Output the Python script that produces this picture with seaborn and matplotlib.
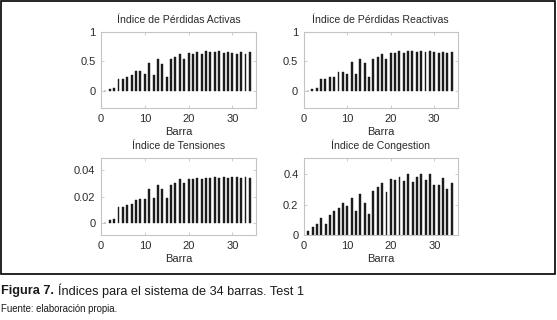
import numpy as np
import pandas as pd
import seaborn as sns
import matplotlib.pyplot as plt
from matplotlib.patches import Rectangle

barra = list(range(1, 35))

perdidas_activas = [0.0, 0.02, 0.04, 0.20, 0.20, 0.24, 0.26, 0.33, 0.33, 0.29,
                    0.48, 0.27, 0.55, 0.46, 0.24, 0.55, 0.57, 0.63, 0.54, 0.65,
                    0.63, 0.67, 0.63, 0.68, 0.67, 0.66, 0.68, 0.65, 0.67, 0.65,
                    0.62, 0.67, 0.63, 0.66]

perdidas_reactivas = [0.0, 0.02, 0.035, 0.20, 0.20, 0.24, 0.24, 0.32, 0.32, 0.29,
                      0.49, 0.28, 0.54, 0.47, 0.24, 0.55, 0.57, 0.63, 0.54, 0.65,
                      0.64, 0.68, 0.64, 0.68, 0.68, 0.67, 0.68, 0.67, 0.68, 0.67,
                      0.64, 0.67, 0.64, 0.66]

tensiones = [0.0, 0.002, 0.003, 0.012, 0.012, 0.014, 0.0145, 0.0175, 0.018, 0.018,
             0.0255, 0.019, 0.0285, 0.0255, 0.019, 0.029, 0.030, 0.033, 0.030, 0.033,
             0.033, 0.034, 0.033, 0.034, 0.034, 0.035, 0.034, 0.035, 0.034, 0.035,
             0.035, 0.034, 0.035, 0.034]

congestion = [0.026, 0.055, 0.075, 0.11, 0.075, 0.134, 0.156, 0.18, 0.21, 0.19,
              0.245, 0.16, 0.27, 0.21, 0.136, 0.29, 0.315, 0.34, 0.28, 0.37,
              0.36, 0.38, 0.355, 0.40, 0.35, 0.385, 0.40, 0.36, 0.40, 0.33,
              0.33, 0.375, 0.30, 0.345]

panels = [
    ("Índice de Pérdidas Activas", perdidas_activas, (-0.3, 1.0), [0, 0.5, 1], ["0", "0.5", "1"]),
    ("Índice de Pérdidas Reactivas", perdidas_reactivas, (-0.3, 1.0), [0, 0.5, 1], ["0", "0.5", "1"]),
    ("Índice de Tensiones", tensiones, (-0.009, 0.049), [0, 0.02, 0.04], ["0", "0.02", "0.04"]),
    ("Índice de Congestion", congestion, (0, 0.505), [0, 0.2, 0.4], ["0", "0.2", "0.4"]),
]

sns.set_style("white")
plt.rcParams['font.family'] = ['Liberation Sans', 'DejaVu Sans']

fig = plt.figure(figsize=(5.57, 3.20), dpi=100)

boxes = [
    [101 / 557, 1 - 108 / 320, 155 / 557, 75.7 / 320],
    [303.7 / 557, 1 - 108 / 320, 154 / 557, 75.7 / 320],
    [101 / 557, 1 - 235 / 320, 155 / 557, 76.7 / 320],
    [304 / 557, 1 - 235 / 320, 153.7 / 557, 76.7 / 320],
]

gray = "#c4c4c4"
txt = "#2b2b2b"
bar_col = "#1c1c1c"

for (title, vals, ylim, yt, ytl), box in zip(panels, boxes):
    ax = fig.add_axes(box)
    df = pd.DataFrame({"Barra": barra, "valor": vals})
    sns.barplot(data=df, x="Barra", y="valor", native_scale=True, width=0.45,
                color=bar_col, saturation=1, edgecolor=bar_col, linewidth=0.3,
                ax=ax)
    ax.set_xlim(0, 35.4)
    ax.set_ylim(*ylim)
    ax.set_xticks([0, 10, 20, 30])
    ax.set_xticklabels(["0", "10", "20", "30"])
    ax.set_yticks(yt)
    ax.set_yticklabels(ytl)
    ax.set_xlabel("Barra", fontsize=8, color=txt, labelpad=2.5)
    ax.set_ylabel("")
    ax.set_title(title, fontsize=7.6, color=txt, pad=7)
    for s in ax.spines.values():
        s.set_color(gray)
        s.set_linewidth(0.8)
    ax.tick_params(direction="in", length=2.5, width=0.6, color=gray,
                   labelsize=8, labelcolor=txt, top=True, right=True,
                   bottom=True, left=True, pad=4)

# frame around the figure panel
fig.patches.append(Rectangle((1 / 557, 1 - 274 / 320), 554 / 557, 273 / 320,
                             transform=fig.transFigure, fill=False,
                             edgecolor="black", linewidth=1.2))

fig.text(1 / 557, 1 - 291 / 320, "Figura 7.", fontsize=9.2, fontweight="bold",
         color="#1a1a1a", va="center", ha="left")
fig.text(58 / 557, 1 - 291 / 320, "Índices para el sistema de 34 barras. Test 1",
         fontsize=9.2, color="#1a1a1a", va="center", ha="left")
fig.text(1 / 557, 1 - 309 / 320, "Fuente: elaboración propia.", fontsize=6.9,
         color="#1a1a1a", va="center", ha="left")

fig.savefig("out.png", dpi=100)
